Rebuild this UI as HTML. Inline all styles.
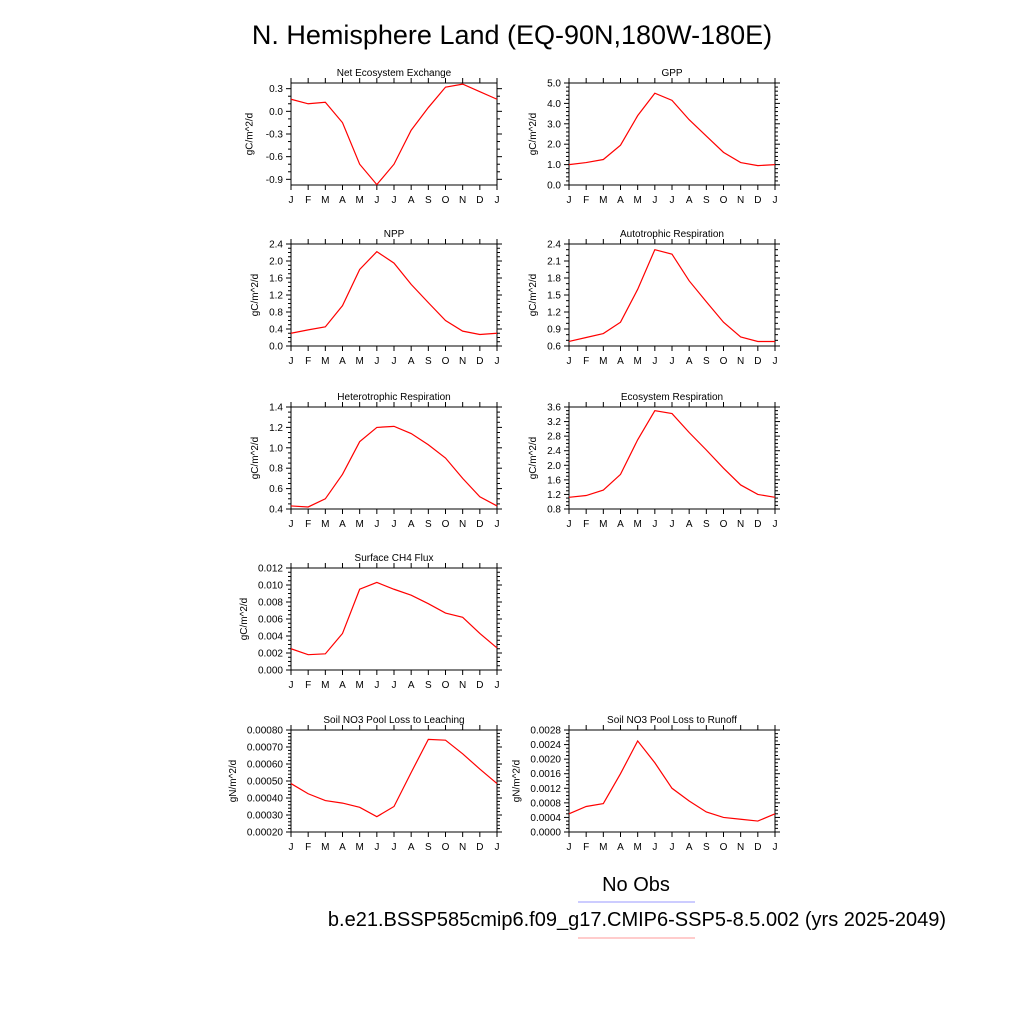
<!DOCTYPE html>
<html><head><meta charset="utf-8">
<style>
html,body{margin:0;padding:0;background:#fff;}
svg{display:block;font-family:"Liberation Sans",sans-serif;}
</style></head>
<body>
<svg id="chart" width="1024" height="1024" viewBox="0 0 1024 1024" xmlns="http://www.w3.org/2000/svg">
<rect width="1024" height="1024" fill="#fff"/>
<text x="512" y="44" font-size="27" text-anchor="middle">N. Hemisphere Land (EQ-90N,180W-180E)</text>
<text x="636" y="891" font-size="20" text-anchor="middle">No Obs</text>
<line x1="578" y1="902" x2="695" y2="902" stroke="#9999ff" stroke-width="1"/>
<text x="637" y="926" font-size="20" text-anchor="middle">b.e21.BSSP585cmip6.f09_g17.CMIP6-SSP5-8.5.002 (yrs 2025-2049)</text>
<line x1="578" y1="938" x2="695" y2="938" stroke="#ff9999" stroke-width="1"/>
<g id="panels"></g>
</svg>
<script>
const months = ["J","F","M","A","M","J","J","A","S","O","N","D","J"];
const neeValues = [0.16,0.10,0.12,-0.15,-0.70,-0.97,-0.70,-0.25,0.05,0.32,0.36,0.26,0.16];
const gppValues = [1.0,1.1,1.25,1.95,3.4,4.5,4.15,3.2,2.4,1.6,1.1,0.95,1.0];
const nppValues = [0.3,0.38,0.45,0.95,1.8,2.22,1.95,1.45,1.02,0.6,0.35,0.27,0.3];
const arValues = [0.68,0.75,0.82,1.02,1.6,2.3,2.22,1.75,1.38,1.02,0.76,0.68,0.68];
const hrValues = [0.43,0.42,0.5,0.74,1.06,1.2,1.21,1.14,1.03,0.9,0.7,0.52,0.43];
const erValues = [1.12,1.17,1.32,1.75,2.7,3.5,3.42,2.9,2.42,1.92,1.46,1.2,1.12];
const ch4Values = [0.0025,0.0018,0.0019,0.0043,0.0095,0.0103,0.0095,0.0088,0.0078,0.0067,0.0062,0.0043,0.0026];
const leachValues = [0.000485,0.000425,0.000385,0.00037,0.000345,0.00029,0.00035,0.00055,0.000745,0.00074,0.00066,0.00057,0.000485];
const runoffValues = [0.0005,0.0007,0.00078,0.0016,0.0025,0.0019,0.0012,0.00085,0.00055,0.0004,0.00035,0.0003,0.0005];
const neeTicks = ["0.3","0.0","-0.3","-0.6","-0.9"];
const gppTicks = ["0.0","1.0","2.0","3.0","4.0","5.0"];
const nppTicks = ["0.0","0.4","0.8","1.2","1.6","2.0","2.4"];
const arTicks = ["0.6","0.9","1.2","1.5","1.8","2.1","2.4"];
const hrTicks = ["0.4","0.6","0.8","1.0","1.2","1.4"];
const erTicks = ["0.8","1.2","1.6","2.0","2.4","2.8","3.2","3.6"];
const ch4Ticks = ["0.000","0.002","0.004","0.006","0.008","0.010","0.012"];
const leachTicks = ["0.00020","0.00030","0.00040","0.00050","0.00060","0.00070","0.00080"];
const runoffTicks = ["0.0000","0.0004","0.0008","0.0012","0.0016","0.0020","0.0024","0.0028"];

const NS="http://www.w3.org/2000/svg";
const root=document.getElementById('panels');
function mk(tag,attrs,parent){const e=document.createElementNS(NS,tag);for(const k in attrs)e.setAttribute(k,attrs[k]);(parent||root).appendChild(e);return e;}

const panels=[
 {name:"nee",title:"Net Ecosystem Exchange",vals:neeValues,ticks:neeTicks,ymin:-0.975,ymax:0.375,minorPer:3,unit:"gC/m^2/d",x:291,y:83},
 {name:"gpp",title:"GPP",vals:gppValues,ticks:gppTicks,ymin:0,ymax:5,minorPer:5,unit:"gC/m^2/d",x:569,y:83},
 {name:"npp",title:"NPP",vals:nppValues,ticks:nppTicks,ymin:0,ymax:2.4,minorPer:4,unit:"gC/m^2/d",x:291,y:244},
 {name:"autotrophic-respiration",title:"Autotrophic Respiration",vals:arValues,ticks:arTicks,ymin:0.6,ymax:2.4,minorPer:3,unit:"gC/m^2/d",x:569,y:244},
 {name:"heterotrophic-respiration",title:"Heterotrophic Respiration",vals:hrValues,ticks:hrTicks,ymin:0.4,ymax:1.4,minorPer:4,unit:"gC/m^2/d",x:291,y:407},
 {name:"ecosystem-respiration",title:"Ecosystem Respiration",vals:erValues,ticks:erTicks,ymin:0.8,ymax:3.6,minorPer:4,unit:"gC/m^2/d",x:569,y:407},
 {name:"surface-ch4-flux",title:"Surface CH4 Flux",vals:ch4Values,ticks:ch4Ticks,ymin:0,ymax:0.012,minorPer:4,unit:"gC/m^2/d",x:291,y:568},
 {name:"soil-no3-leaching",title:"Soil NO3 Pool Loss to Leaching",vals:leachValues,ticks:leachTicks,ymin:0.0002,ymax:0.0008,minorPer:5,unit:"gN/m^2/d",x:291,y:730},
 {name:"soil-no3-runoff",title:"Soil NO3 Pool Loss to Runoff",vals:runoffValues,ticks:runoffTicks,ymin:0,ymax:0.0028,minorPer:4,unit:"gN/m^2/d",x:569,y:730}
];
const W=206,H=102;

panels.forEach(p=>{
  const g=mk('g',{});
  
  
  const xs=i=>p.x+i*W/(months.length-1);
  const ys=v=>p.y+H-(v-p.ymin)/(p.ymax-p.ymin)*H;
  const t=mk('text',{x:p.x+W/2,y:p.y-7,'font-size':10,'text-anchor':'middle'},g);
  t.textContent=p.title;
  
  
  const fr=mk('rect',{x:p.x,y:p.y,width:W,height:H,fill:'none',stroke:'#000','stroke-width':1},g);
  
  
  // x ticks
  months.forEach((m,i)=>{
    const X=xs(i);
    mk('line',{x1:X,y1:p.y+H,x2:X,y2:p.y+H+5,stroke:'#000'},g);
    mk('line',{x1:X,y1:p.y,x2:X,y2:p.y-5,stroke:'#000'},g);
    const l=mk('text',{x:X,y:p.y+H+18,'font-size':10,'text-anchor':'middle'},g);
    l.textContent=m;
    
    
  });
  // y ticks
  const v0=parseFloat(p.ticks[0]), v1=parseFloat(p.ticks[1]);
  const step=v1-v0;
  let maxLen=0;
  p.ticks.forEach(s=>{
    const v=parseFloat(s);
    const Y=ys(v);
    mk('line',{x1:p.x,y1:Y,x2:p.x-5,y2:Y,stroke:'#000'},g);
    mk('line',{x1:p.x+W,y1:Y,x2:p.x+W+5,y2:Y,stroke:'#000'},g);
    const l=mk('text',{x:p.x-8,y:Y+3.5,'font-size':10,'text-anchor':'end'},g);
    l.textContent=s;
    
    
    maxLen=Math.max(maxLen,s.length);
  });
  const ms=step/p.minorPer;
  const vmin=Math.min(...p.ticks.map(parseFloat));
  for(let k=-20;k<200;k++){
    const v=vmin+k*ms;
    if(v<p.ymin-1e-12||v>p.ymax+1e-12)continue;
    if(Math.abs(Math.round(k/p.minorPer)*p.minorPer-k)<1e-9)continue;
    const Y=ys(v);
    mk('line',{x1:p.x,y1:Y,x2:p.x-3,y2:Y,stroke:'#000'},g);
    mk('line',{x1:p.x+W,y1:Y,x2:p.x+W+3,y2:Y,stroke:'#000'},g);
  }
  const lx=p.x-8-maxLen*5.6-8;
  const yl=mk('text',{x:lx,y:p.y+H/2,'font-size':10,'text-anchor':'middle',transform:`rotate(-90 ${lx} ${p.y+H/2})`},g);
  yl.textContent=p.unit;
  
  
  const pts=p.vals.map((v,i)=>xs(i).toFixed(2)+','+ys(v).toFixed(2)).join(' ');
  const pl=mk('polyline',{points:pts,fill:'none',stroke:'#ff0000','stroke-width':1.2},g);
  
  
});
</script>
</body></html>
